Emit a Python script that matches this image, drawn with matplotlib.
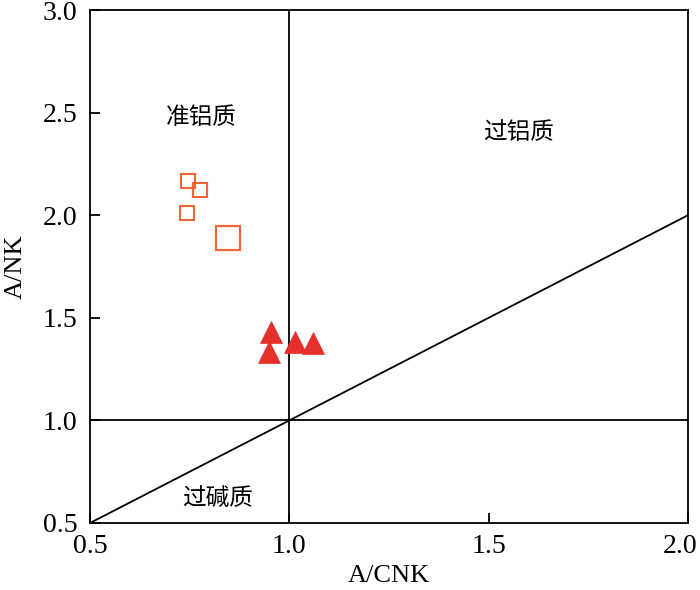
import matplotlib

matplotlib.use("Agg")
import matplotlib.pyplot as plt
import matplotlib.transforms as mtransforms
import numpy as np

# A/CNK vs A/NK data
sq_x = [0.747, 0.776, 0.743]
sq_y = [2.169, 2.123, 2.012]
big_sq_x = [0.846]
big_sq_y = [1.890]
tri_x = [0.954, 0.948, 1.015, 1.060]
tri_y = [1.429, 1.331, 1.380, 1.377]

x_ticks = [0.5, 1.0, 1.5, 2.0]
y_ticks = [0.5, 1.0, 1.5, 2.0, 2.5, 3.0]

SQ_COLOR = "#EE6538"
TRI_COLOR = "#E62E2A"
SERIF = ["Liberation Serif", "DejaVu Serif"]
CJK = ["Noto Sans CJK SC", "DejaVu Sans"]
LW = 1.3

fig = plt.figure(figsize=(7.0, 5.9), dpi=100)
ax = fig.add_axes([90 / 700, 67 / 590, 598 / 700, 513 / 590])

# field boundaries
ax.axvline(1.0, color="black", lw=LW, zorder=1)
ax.axhline(1.0, color="black", lw=LW, zorder=1)
ax.plot([0.5, 2.0], [0.5, 2.0], color="black", lw=LW, zorder=1)

ax.plot(sq_x, sq_y, ls="none", marker="s", ms=10.5, mfc="none",
        mec=SQ_COLOR, mew=1.5, zorder=3)
ax.plot(big_sq_x, big_sq_y, ls="none", marker="s", ms=17.5, mfc="none",
        mec=SQ_COLOR, mew=1.6, zorder=3)
ax.plot(tri_x, tri_y, ls="none", marker="^", ms=16, mfc=TRI_COLOR,
        mec=TRI_COLOR, mew=0.5, zorder=3)

ax.text(0.779, 2.475, "准铝质", family=CJK, fontsize=17, ha="center", va="center")
ax.text(1.575, 2.405, "过铝质", family=CJK, fontsize=17, ha="center", va="center")
ax.text(0.819, 0.620, "过碱质", family=CJK, fontsize=17, ha="center", va="center")

ax.set_xlim(0.5, 2.0)
ax.set_ylim(0.5, 3.0)
ax.set_xticks(x_ticks)
ax.set_yticks(y_ticks)
ax.set_xticklabels([f"{v:.1f}" for v in x_ticks], family=SERIF, fontsize=20)
ax.set_yticklabels([f"{v:.1f}" for v in y_ticks], family=SERIF, fontsize=20)
ax.tick_params(direction="in", length=7, width=LW, top=False, right=False)
ax.tick_params(axis="x", pad=8)
ax.tick_params(axis="y", pad=9)
for s in ax.spines.values():
    s.set_linewidth(LW)

# keep the last x label inside the canvas
last = ax.get_xticklabels()[-1]
last.set_transform(last.get_transform()
                   + mtransforms.ScaledTranslation(-6 / 72, 0, fig.dpi_scale_trans))

ax.set_xlabel("A/CNK", family=SERIF, fontsize=19)
ax.set_ylabel("A/NK", family=SERIF, fontsize=19)
ax.xaxis.set_label_coords(0.500, -0.104)
ax.yaxis.set_label_coords(-0.125, 0.5)
ax.xaxis.label.set_va("center")
ax.yaxis.label.set_va("center")

fig.savefig("out.png", dpi=100, facecolor="white")
